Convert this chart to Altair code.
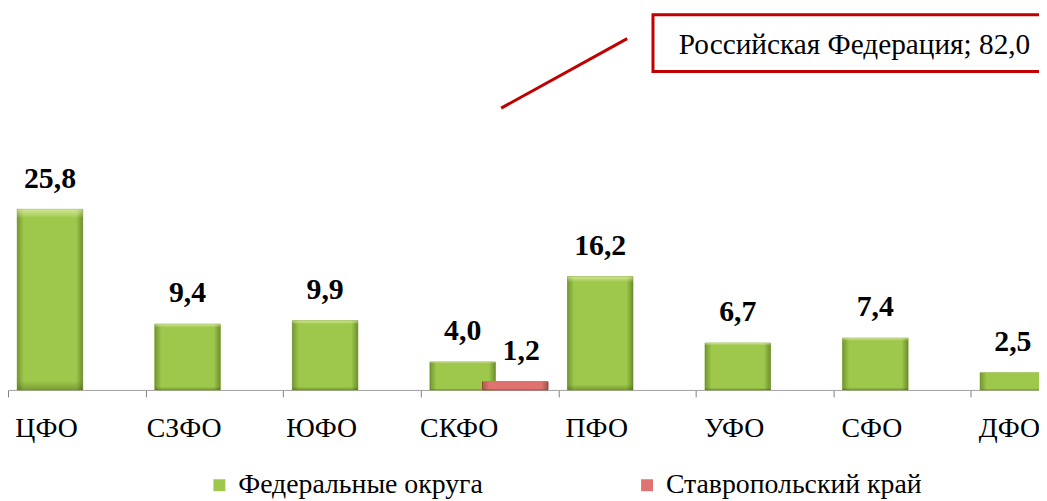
import altair as alt
import pandas as pd

categories = ["ЦФО", "СЗФО", "ЮФО", "СКФО", "ПФО", "УФО", "СФО", "ДФО"]
fo_values = [25.8, 9.4, 9.9, 4.0, 16.2, 6.7, 7.4, 2.5]
stav_categories = ["СКФО"]
stav_values = [1.2]
series_names = ["Федеральные округа", "Ставропольский край"]
series_colors = ["#9DC84B", "#E07272"]
rf_label = "Российская Федерация"
rf_total = 82.0


def fmt(v):
    return f"{v:.1f}".replace(".", ",")


df_fo = pd.DataFrame({"cat": categories, "val": fo_values,
                      "series": series_names[0],
                      "lbl": [fmt(v) for v in fo_values]})
df_st = pd.DataFrame({"cat": stav_categories, "val": stav_values,
                      "series": series_names[1],
                      "lbl": [fmt(v) for v in stav_values]})
df_rf = pd.DataFrame({"txt": [f"{rf_label}; {fmt(rf_total)}"]})

SERIF = "Liberation Serif"

xscale = alt.Scale(domain=categories, range=[0, 1109], paddingInner=0, paddingOuter=0)
yscale = alt.Scale(domain=[0, 54.3])
cscale = alt.Scale(domain=series_names, range=series_colors)

x_enc = alt.X("cat:N", sort=categories, scale=xscale,
              axis=alt.Axis(title=None, domainColor="#A0A0A0", domainWidth=1,
                            ticks=True, tickColor="#808080", tickSize=7, tickWidth=1,
                            tickBand="extent",
                            labelFont=SERIF, labelFontSize=28, labelColor="black",
                            labelPadding=18, labelOffset=-31, labelAngle=0, grid=False))
y_enc = alt.Y("val:Q", scale=yscale, axis=None)

legend = alt.Legend(title=None, orient="none", legendX=199, legendY=465,
                    direction="horizontal", symbolType="square", symbolSize=144,
                    symbolStrokeWidth=0, labelFont=SERIF, labelFontSize=28,
                    labelColor="black", labelLimit=500, columnPadding=151,
                    labelOffset=5)

shade = alt.Gradient(gradient="linear", x1=0, x2=1, y1=0, y2=0, stops=[
    alt.GradientStop(offset=0, color="rgba(40,60,0,0.35)"),
    alt.GradientStop(offset=0.1, color="rgba(40,60,0,0.0)"),
    alt.GradientStop(offset=0.9, color="rgba(40,60,0,0.0)"),
    alt.GradientStop(offset=1, color="rgba(40,60,0,0.4)"),
])
shade_v = alt.Gradient(gradient="linear", x1=0, x2=0, y1=0, y2=1, stops=[
    alt.GradientStop(offset=0, color="rgba(255,255,210,0.55)"),
    alt.GradientStop(offset=0.05, color="rgba(255,255,210,0.0)"),
    alt.GradientStop(offset=0.95, color="rgba(40,60,0,0.0)"),
    alt.GradientStop(offset=1, color="rgba(40,60,0,0.3)"),
])

fo_bars = alt.Chart(df_fo).mark_bar(width=66, xOffset=-27, stroke="#86AA38",
                                    strokeWidth=0.8).encode(
    x=x_enc, y=y_enc,
    color=alt.Color("series:N", scale=cscale, legend=legend))
fo_shade = alt.Chart(df_fo).mark_bar(width=66, xOffset=-27, fill=shade).encode(
    x=x_enc, y=y_enc)
fo_shade2 = alt.Chart(df_fo).mark_bar(width=66, xOffset=-27, fill=shade_v).encode(
    x=x_enc, y=y_enc)
fo_text = alt.Chart(df_fo).mark_text(xOffset=-27, dy=-22, baseline="alphabetic",
                                     font=SERIF, fontSize=30, fontWeight="bold",
                                     color="black").encode(
    x=x_enc, y=y_enc, text="lbl:N")

st_bars = alt.Chart(df_st).mark_bar(width=66, xOffset=26, stroke="#B04848",
                                    strokeWidth=1).encode(
    x=x_enc, y=y_enc,
    color=alt.Color("series:N", scale=cscale, legend=legend))
st_shade = alt.Chart(df_st).mark_bar(width=66, xOffset=26, fill=shade).encode(
    x=x_enc, y=y_enc)
st_shade2 = alt.Chart(df_st).mark_bar(width=66, xOffset=26, fill=shade_v).encode(
    x=x_enc, y=y_enc)
st_text = alt.Chart(df_st).mark_text(xOffset=32, dy=-22, baseline="alphabetic",
                                     font=SERIF, fontSize=30, fontWeight="bold",
                                     color="black").encode(
    x=x_enc, y=y_enc, text="lbl:N")

leader = alt.Chart(df_rf).mark_rule(color="#C00000", strokeWidth=3).encode(
    x=alt.value(497), y=alt.value(99), x2=alt.value(624), y2=alt.value(29))
box = alt.Chart(df_rf).mark_rect(fill="white", stroke="#C00000", strokeWidth=3).encode(
    x=alt.value(650), x2=alt.value(1080), y=alt.value(5), y2=alt.value(62))
box_text = alt.Chart(df_rf).mark_text(align="left", baseline="alphabetic", font=SERIF,
                                      fontSize=29.5, color="black").encode(
    x=alt.value(676), y=alt.value(44), text="txt:N")

chart = alt.layer(fo_bars, fo_shade, fo_shade2, st_bars, st_shade, st_shade2,
                  fo_text, st_text, leader, box, box_text).properties(
    width=1039, height=383,
    autosize=alt.AutoSizeParams(type="none"),
    padding={"left": 0, "top": 0, "right": 0, "bottom": 108},
).configure(background="white", font=SERIF).configure_view(stroke=None).configure_legend(
    labelFont=SERIF, labelFontSize=28, labelColor="black", labelLimit=500)

chart.save("out.html", embed_options={"renderer": "svg", "actions": False})
